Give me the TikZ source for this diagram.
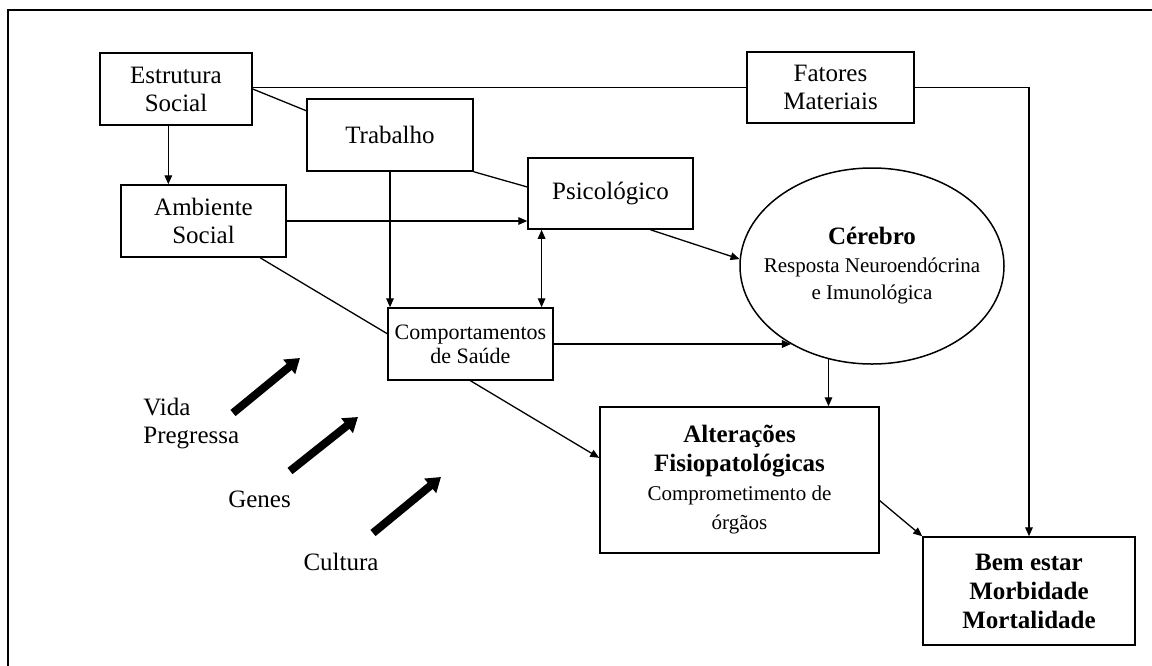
\documentclass[tikz,border=0pt]{standalone}
\usepackage{fontspec}
\setmainfont{Liberation Serif}
\usetikzlibrary{arrows.meta,calc,shapes.geometric}

% type sizes used in the boxes
\newcommand\labelfont{\fontsize{12.5}{14}\selectfont}
\newcommand\subfont{\fontsize{10.5}{13.5}\selectfont\mdseries}
\newcommand\headfont{\fontsize{12.5}{14.5}\selectfont\bfseries}

\begin{document}
\begin{tikzpicture}[x=0.5pt,y=-0.5pt,
  box/.style={draw, line width=0.75pt, inner sep=0pt, align=center, font=\labelfont},
  link/.style={line width=0.65pt},
  arr/.style={link, -{Triangle[length=4.5pt,width=3.8pt]}},
  twoway/.style={link, {Triangle[length=4.5pt,width=3.8pt]}-{Triangle[length=4.5pt,width=3.8pt]}},
  bigarrow/.style={line width=4pt, -{Triangle[length=7pt,width=9pt]}},
  lbl/.style={font=\labelfont, inner sep=0pt}
]
\useasboundingbox (0,0) rectangle (1152,665);

% outer frame
\draw[line width=1.2pt] (8,675) -- (8,10) -- (1160,10);

% boxes
\node[box, minimum width=76pt, minimum height=36pt] (estr) at (176,89) {Estrutura\\Social};
\node[box, minimum width=83pt, minimum height=36pt] (trab) at (390,135) {Trabalho};
\node[box, minimum width=83.5pt, minimum height=35.5pt] (fat) at (830.5,87.5) {Fatores\\Materiais};
\node[box, minimum width=82.5pt, minimum height=36pt] (amb) at (203.5,221) {Ambiente\\Social};
\node[box, minimum width=82.5pt, minimum height=35.5pt] (psi) at (610.5,193.5) {Psicológico};
\node[box, minimum width=82.5pt, minimum height=36pt, font=\fontsize{11}{12}\selectfont] (comp) at (470.5,344) {Comportamentos\\de Saúde};

\node[draw, ellipse, line width=0.75pt, inner sep=0pt, minimum width=132pt, minimum height=98pt] (cer) at (872,266) {};
\node[align=center, inner sep=0pt, font=\fontsize{10.5}{13.75}\selectfont] (certxt) at (cer.center)
  {{\fontsize{12.5}{13.75}\selectfont\bfseries Cérebro}\\Resposta Neuroendócrina\\e Imunológica};

\node[box, minimum width=139.5pt, minimum height=73pt, font=\headfont] (alt) at (739.5,480)
  {Alterações\\Fisiopatológicas\\{\subfont Comprometimento de}\\{\subfont órgãos}};

\node[box, minimum width=106pt, minimum height=54pt, font=\headfont] (bem) at (1029,591)
  {Bem estar\\Morbidade\\Mortalidade};

% free labels
\node[lbl, align=left, anchor=west] (vida) at (143,424) {Vida\\Pregressa};
\node[lbl] (genes) at (259.5,499) {Genes};
\node[lbl] (cult) at (341,562) {Cultura};

% attachment points
\coordinate (e1) at ($(estr.south west)!0.45!(estr.south east)$);
\coordinate (p1) at ($(comp.north west)!0.927!(comp.north east)$);

% connectors
\draw[link] (estr.east |- fat.west) -- (fat.west);
\draw[arr] (fat.east) -| (bem.north);
\draw[link] (estr.east) -- ($(trab.north west)!0.17!(trab.south west)$);
\draw[arr] (e1) -- (e1 |- amb.north);
\draw[link] (trab.south east) -- ($(psi.north west)!0.41!(psi.south west)$);
\draw[arr] (amb.east) -- (amb.east -| psi.west);
\draw[arr] (trab.south) -- (trab.south |- comp.north);
\draw[twoway] (p1) -- (p1 |- psi.south);
\draw[link] ($(amb.south west)!0.84!(amb.south east)$) -- ($(comp.north west)!0.36!(comp.south west)$);
\draw[arr] ($(psi.south west)!0.74!(psi.south east)$) -- (cer.177);
\draw[arr] (comp.east) -- (comp.east -| cer.224);
\draw[arr] (cer.245) -- (cer.245 |- alt.north);
\draw[arr] (comp.south) -- ($(alt.north west)!0.35!(alt.south west)$);
\draw[arr] ($(alt.north east)!0.64!(alt.south east)$) -- (bem.north west);

% heavy arrows beside the factors
\coordinate (v0) at (233,413); \coordinate (v1) at (300,358);
\coordinate (g0) at (290,471); \coordinate (g1) at (358,417);
\coordinate (c0) at (373,533); \coordinate (c1) at (441,477);
\draw[bigarrow] (v0) -- (v1);
\draw[bigarrow] (g0) -- (g1);
\draw[bigarrow] (c0) -- (c1);
\end{tikzpicture}
\end{document}
